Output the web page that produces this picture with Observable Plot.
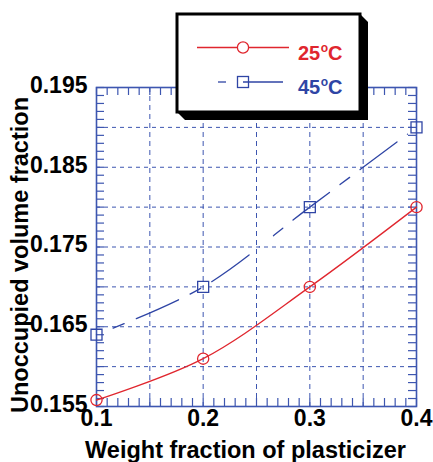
<!DOCTYPE html>
<html>
<head>
<meta charset="utf-8">
<script src="https://cdn.jsdelivr.net/npm/d3@7"></script>
<script src="https://cdn.jsdelivr.net/npm/@observablehq/plot@0.6"></script>
<style>
  html, body { margin: 0; padding: 0; background: #fff; }
  #chart svg { display: block; }
</style>
</head>
<body>
<div id="chart"></div>
<script>
// ---- data ----
const plasticizer = [0.1, 0.2, 0.3, 0.4];
const uvf25 = [0.1558, 0.1610, 0.1700, 0.1800];
const uvf45 = [0.1640, 0.1700, 0.1800, 0.1900];
const seriesNames = ["25", "45"];
const xTickLabels = [0.1, 0.2, 0.3, 0.4];
const yTickLabels = [0.155, 0.165, 0.175, 0.185, 0.195];
const xGrid = [0.15, 0.2, 0.25, 0.3, 0.35];
const yGrid = [0.16, 0.165, 0.17, 0.175, 0.18, 0.185, 0.19];
const xTitle = "Weight fraction of plasticizer";
const yTitle = "Unoccupied volume fraction";

const red = "#e0262e";
const blue = "#2f45a5";
const frameBlue = "#3d56b0";
const font = "'Liberation Sans', Arial, Helvetica, sans-serif";

const rows25 = plasticizer.map((x, i) => ({x, y: uvf25[i]}));
const rows45 = plasticizer.map((x, i) => ({x, y: uvf45[i]}));

const xMinor = d3.range(0, 31).map(i => 0.1 + i * 0.01);
const yMinor = d3.range(0, 41).map(i => 0.155 + i * 0.001);

const xDom = [0.1, 0.4], yDom = [0.155, 0.195];

const svg = Plot.plot({
  width: 433,
  height: 462,
  marginLeft: 96,
  marginRight: 17,
  marginTop: 87,
  marginBottom: 56,
  style: {fontFamily: font, background: "#fff", overflow: "visible"},
  x: {domain: xDom},
  y: {domain: yDom},
  marks: [
    Plot.gridX(xGrid, {stroke: frameBlue, strokeOpacity: 1, strokeWidth: 1, strokeDasharray: "5,4"}),
    Plot.gridY(yGrid, {stroke: frameBlue, strokeOpacity: 1, strokeWidth: 1, strokeDasharray: "4,4"}),
    // minor ticks, inward on all four sides
    Plot.ruleX(xMinor, {x: d => d, y1: yDom[0], y2: yDom[0] + 0.001, stroke: frameBlue, strokeWidth: 1.2}),
    Plot.ruleX(xMinor, {x: d => d, y1: yDom[1], y2: yDom[1] - 0.001, stroke: frameBlue, strokeWidth: 1.2}),
    Plot.ruleY(yMinor, {y: d => d, x1: xDom[0], x2: xDom[0] + 0.0075, stroke: frameBlue, strokeWidth: 1.2}),
    Plot.ruleY(yMinor, {y: d => d, x1: xDom[1], x2: xDom[1] - 0.0075, stroke: frameBlue, strokeWidth: 1.2}),
    Plot.frame({stroke: frameBlue, strokeWidth: 1.6}),
    Plot.axisX({ticks: xTickLabels, tickFormat: d3.format(".1f"), tickSize: 0, tickPadding: 3,
      fontSize: 23, fontWeight: "bold", fill: "#000", label: null}),
    Plot.axisY({ticks: yTickLabels, tickFormat: d3.format(".3f"), tickSize: 0, tickPadding: 9,
      fontSize: 23, fontWeight: "bold", fill: "#000", label: null, dy: -2}),
    Plot.text([yTitle], {frameAnchor: "left", text: d => d, rotate: -90, dx: -76, dy: 8,
      textAnchor: "middle", lineAnchor: "middle",
      fontSize: 23.5, fontWeight: "bold", fill: "#000"}),
    Plot.text([xTitle], {frameAnchor: "bottom", text: d => d, dx: -11, dy: 44,
      textAnchor: "middle", lineAnchor: "middle",
      fontSize: 23.5, fontWeight: "bold", fill: "#000"}),
    Plot.line(rows45, {x: "x", y: "y", stroke: blue, strokeWidth: 1.3, curve: "catmull-rom",
      strokeDasharray: "0,18,12,13,46,13,12,13,46,13"}),
    Plot.line(rows25, {x: "x", y: "y", stroke: red, strokeWidth: 1.3, curve: "catmull-rom"}),
    Plot.dot(rows45, {x: "x", y: "y", symbol: "square", r: 6.2, stroke: blue, strokeWidth: 1.3, fill: "none"}),
    Plot.dot(rows25, {x: "x", y: "y", symbol: "circle", r: 5.6, stroke: red, strokeWidth: 1.3, fill: "none"})
  ]
});

// ---- legend box ----
const g = d3.select(svg).append("g").attr("text-anchor", "start");
g.append("polygon")
  .attr("points", "360,14 368,22 368,120 185,120 177,112")
  .attr("fill", "#000");
g.append("rect").attr("x", 177).attr("y", 14).attr("width", 183).attr("height", 98)
  .attr("fill", "#fff").attr("stroke", "#000").attr("stroke-width", 3);

const legendRows = [
  {name: seriesNames[0], color: red, y: 47.5},
  {name: seriesNames[1], color: blue, y: 82}
];
// red sample
g.append("line").attr("x1", 197).attr("x2", 289).attr("y1", legendRows[0].y).attr("y2", legendRows[0].y)
  .attr("stroke", red).attr("stroke-width", 1.3);
g.append("circle").attr("cx", 243).attr("cy", legendRows[0].y).attr("r", 5.6)
  .attr("fill", "#fff").attr("stroke", red).attr("stroke-width", 1.3);
// blue sample
g.append("line").attr("x1", 218).attr("x2", 226).attr("y1", legendRows[1].y).attr("y2", legendRows[1].y)
  .attr("stroke", blue).attr("stroke-width", 1.3);
g.append("line").attr("x1", 243).attr("x2", 283).attr("y1", legendRows[1].y).attr("y2", legendRows[1].y)
  .attr("stroke", blue).attr("stroke-width", 1.3);
g.append("rect").attr("x", 237.5).attr("y", legendRows[1].y - 5.5).attr("width", 11).attr("height", 11)
  .attr("fill", "none").attr("stroke", blue).attr("stroke-width", 1.3);

legendRows.forEach(r => {
  const t = g.append("text").attr("x", 298).attr("y", r.y + 12).attr("text-anchor", "start")
    .attr("fill", r.color).attr("font-family", font).attr("font-weight", "bold").attr("font-size", 20);
  t.append("tspan").text(r.name);
  t.append("tspan").attr("font-size", 12).attr("dy", -8).attr("dx", 0.5).text("o");
  t.append("tspan").attr("dy", 8).text("C");
});

document.getElementById("chart").appendChild(svg);
</script>
</body>
</html>
